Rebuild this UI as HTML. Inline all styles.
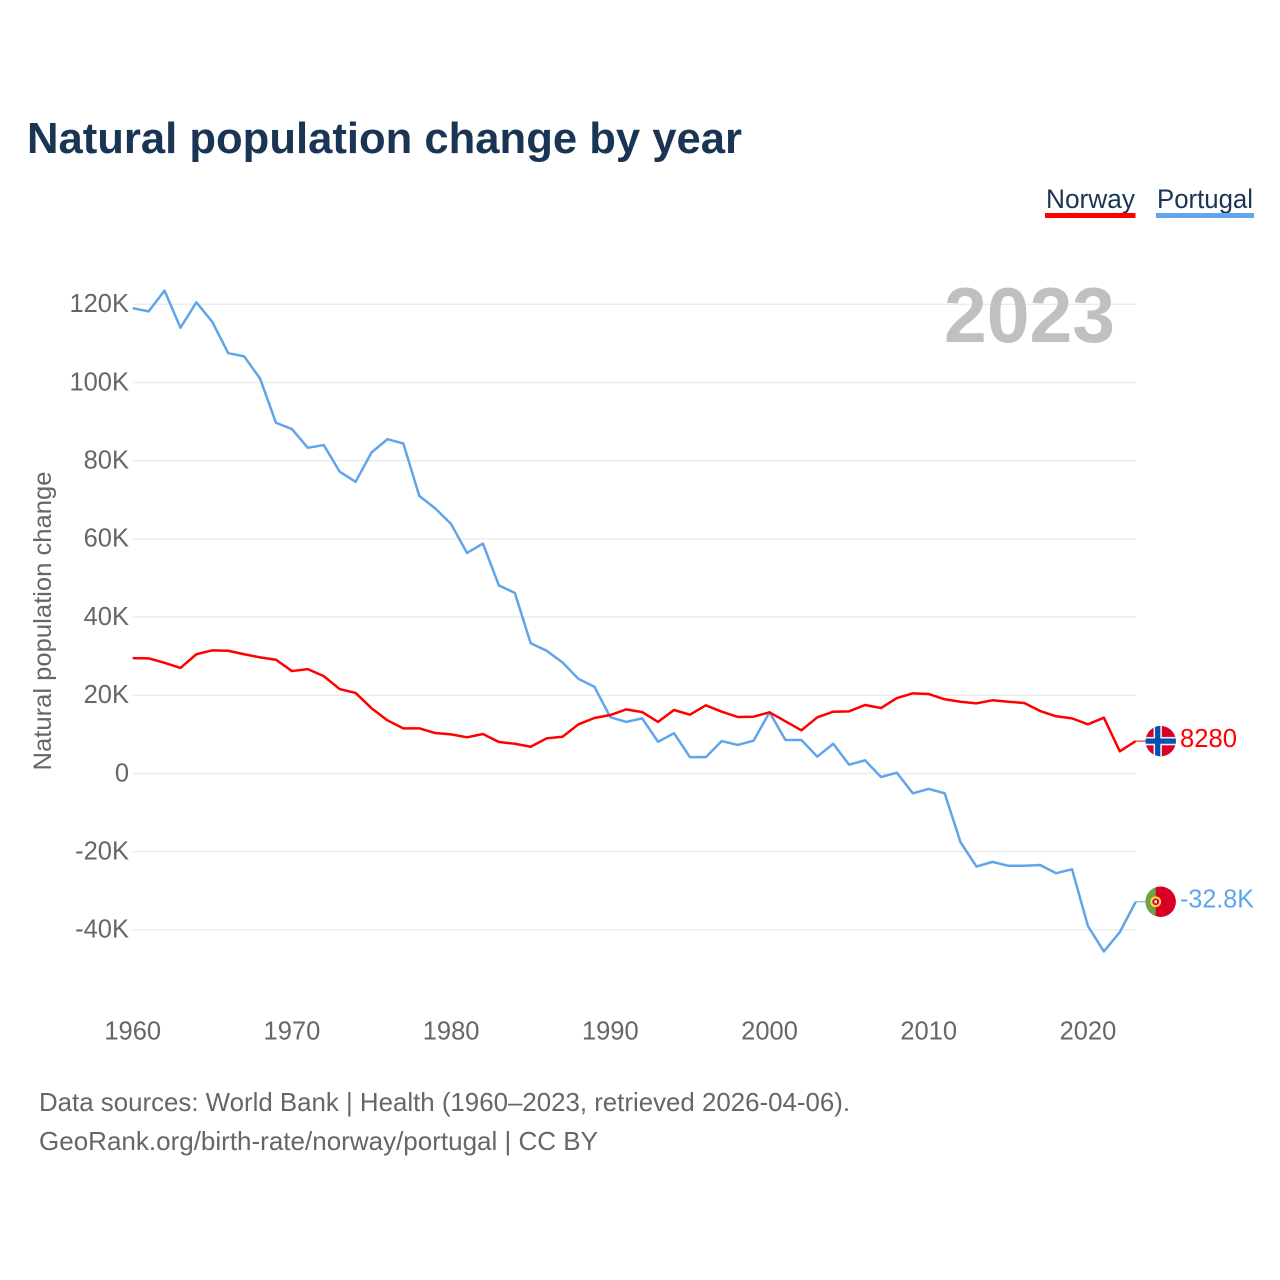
<!DOCTYPE html>
<html lang="en">
<head>
<meta charset="utf-8">
<title>Natural population change by year</title>
<style>
html,body{margin:0;padding:0;background:#fff;}
svg{display:block;font-family:"Liberation Sans",sans-serif;}
</style>
</head>
<body>
<svg id="chart" xmlns="http://www.w3.org/2000/svg" width="1280" height="1280" viewBox="0 0 1280 1280">
  <defs>
    <clipPath id="flag-clip-no"><circle id="clip-no" cx="1160.7" cy="740" r="15.2"></circle></clipPath>
    <clipPath id="flag-clip-pt"><circle id="clip-pt" cx="1160.7" cy="901" r="15.2"></circle></clipPath>
  </defs>
  <rect x="0" y="0" width="1280" height="1280" fill="#ffffff"></rect>
  <text x="27" y="153" font-size="44" font-weight="700" fill="#1a3454" textLength="715" lengthAdjust="spacingAndGlyphs">Natural population change by year</text>

  <g>
    <g>
      <text x="1046" y="208" font-size="27" fill="#1a3454" textLength="89" lengthAdjust="spacingAndGlyphs">Norway</text>
      <rect x="1045" y="213" width="90.5" height="5" fill="#ff0000"></rect>
    </g>
    <g>
      <text x="1157" y="208" font-size="27" fill="#1a3454" textLength="96" lengthAdjust="spacingAndGlyphs">Portugal</text>
      <rect x="1156" y="213" width="98" height="5" fill="#63a5ea"></rect>
    </g>
  </g>

  <g id="grid"></g>
  <text x="1115" y="342" font-size="78" font-weight="700" fill="#c0c0c0" text-anchor="end" textLength="171" lengthAdjust="spacingAndGlyphs">2023</text>
  <g id="y-ticks"></g>
  <g id="x-ticks"></g>
  <text transform="translate(51,621) rotate(-90)" font-size="25" fill="#666666" text-anchor="middle" textLength="299" lengthAdjust="spacingAndGlyphs">Natural population change</text>
  <g id="series"></g>
  <g id="ends"></g>

  <text x="39" y="1111" font-size="26" fill="#666666" textLength="811" lengthAdjust="spacingAndGlyphs">Data sources: World Bank | Health (1960–2023, retrieved 2026-04-06).</text>
  <text x="39" y="1150" font-size="26" fill="#666666" textLength="559" lengthAdjust="spacingAndGlyphs">GeoRank.org/birth-rate/norway/portugal | CC BY</text>
</svg>
<script>
const startYear = 1960;
const xTickYears = [1960, 1970, 1980, 1990, 2000, 2010, 2020];
const yTickValues = [120000, 100000, 80000, 60000, 40000, 20000, 0, -20000, -40000];
const yTickLabels = ["120K", "100K", "80K", "60K", "40K", "20K", "0", "-20K", "-40K"];
const norwayValues = [29500,29450,28300,27000,30500,31500,31400,30500,29700,29100,26200,26700,24900,21600,20600,16700,13600,11550,11550,10350,10000,9250,10100,8050,7600,6850,9000,9400,12580,14200,14960,16400,15700,13200,16240,15050,17440,15800,14450,14530,15650,13350,11050,14370,15800,15900,17520,16750,19300,20500,20330,18980,18360,17950,18720,18360,18030,15980,14630,14100,12580,14270,5680,8280];
const portugalValues = [119000,118200,123500,114000,120500,115500,107500,106700,101000,89700,88100,83300,84000,77200,74600,82100,85500,84400,71000,67800,63800,56400,58800,48100,46200,33300,31400,28400,24200,22200,14400,13200,14100,8100,10300,4200,4200,8300,7300,8400,15650,8570,8570,4300,7600,2250,3370,-900,200,-5060,-3960,-5060,-17600,-23800,-22600,-23600,-23600,-23400,-25500,-24500,-39000,-45500,-40600,-32800];
const norwayEndLabel = "8280";
const portugalEndLabel = "-32.8K";

const SVGNS = "http://www.w3.org/2000/svg";
const xScale = function (year) { return 132.7 + (year - startYear) * (1135.7 - 132.7) / 63; };
const yScale = function (value) { return 773.5 - value * 78.2 / 20000; };

function make(tag, attrs, text) {
  const el = document.createElementNS(SVGNS, tag);
  Object.keys(attrs).forEach(function (k) { el.setAttribute(k, attrs[k]); });
  if (text !== undefined) el.textContent = text;
  return el;
}

const grid = document.getElementById("grid");
const yTicks = document.getElementById("y-ticks");
yTickValues.forEach(function (v, i) {
  const y = yScale(v);
  const line = make("line", { x1: 133, x2: 1136, y1: y, y2: y, stroke: "#ebebeb", "stroke-width": 1.4 });
  
  
  grid.appendChild(line);
  const label = make("text", { x: 129, y: y + 7.8, "font-size": 25.5, fill: "#666666", "text-anchor": "end" }, yTickLabels[i]);
  
  
  yTicks.appendChild(label);
});

const xTicks = document.getElementById("x-ticks");
xTickYears.forEach(function (year) {
  const label = make("text", { x: xScale(year), y: 1039.5, "font-size": 25.5, fill: "#666666", "text-anchor": "middle" }, String(year));
  
  
  xTicks.appendChild(label);
});

function pathFor(values) {
  return values.map(function (v, i) {
    return (i ? "L" : "M") + xScale(startYear + i).toFixed(2) + " " + yScale(v).toFixed(2);
  }).join(" ");
}

const seriesGroup = document.getElementById("series");
const portugalLine = make("path", { d: pathFor(portugalValues), fill: "none", stroke: "#60a5ea", "stroke-width": 2.5, "stroke-linejoin": "round" });


seriesGroup.appendChild(portugalLine);
const norwayLine = make("path", { d: pathFor(norwayValues), fill: "none", stroke: "#ff0000", "stroke-width": 2.5, "stroke-linejoin": "round" });


seriesGroup.appendChild(norwayLine);

const ends = document.getElementById("ends");
const lastIndex = norwayValues.length - 1;
const noY = yScale(norwayValues[lastIndex]);
const ptY = yScale(portugalValues[lastIndex]);
const endX = xScale(startYear + lastIndex);
const flagX = 1160.7;

document.getElementById("clip-no").setAttribute("cy", noY);
document.getElementById("clip-pt").setAttribute("cy", ptY);

const noConnector = make("line", { x1: endX, x2: flagX - 15, y1: noY, y2: noY, stroke: "#ff0000", "stroke-width": 1 });


ends.appendChild(noConnector);
const ptConnector = make("line", { x1: endX, x2: flagX - 15, y1: ptY, y2: ptY, stroke: "#60a5ea", "stroke-width": 1 });


ends.appendChild(ptConnector);

const noFlag = make("g", { "clip-path": "url(#flag-clip-no)" });


noFlag.appendChild(make("rect", { x: flagX - 16, y: noY - 16, width: 32, height: 32, fill: "#d80027" }));
noFlag.appendChild(make("rect", { x: flagX - 16, y: noY - 4.2, width: 32, height: 8.4, fill: "#f0f0f0" }));
noFlag.appendChild(make("rect", { x: flagX - 7.2, y: noY - 16, width: 8.4, height: 32, fill: "#f0f0f0" }));
noFlag.appendChild(make("rect", { x: flagX - 16, y: noY - 2.6, width: 32, height: 5.2, fill: "#0052b4" }));
noFlag.appendChild(make("rect", { x: flagX - 5.6, y: noY - 16, width: 5.2, height: 32, fill: "#0052b4" }));
ends.appendChild(noFlag);

const noLabel = make("text", { x: 1180, y: noY + 6, "font-size": 25.5, fill: "#ff0000", textLength: 57, lengthAdjust: "spacingAndGlyphs" }, norwayEndLabel);


ends.appendChild(noLabel);

const ptFlag = make("g", { "clip-path": "url(#flag-clip-pt)" });


ptFlag.appendChild(make("rect", { x: flagX - 16, y: ptY - 16, width: 32, height: 32, fill: "#d80027" }));
ptFlag.appendChild(make("rect", { x: flagX - 16, y: ptY - 16, width: 11, height: 32, fill: "#6da544" }));
ptFlag.appendChild(make("circle", { cx: flagX - 5, cy: ptY, r: 4.4, fill: "#d80027", stroke: "#ffda44", "stroke-width": 2 }));
ptFlag.appendChild(make("rect", { x: flagX - 6.3, y: ptY - 1.5, width: 2.6, height: 3, fill: "#f0f0f0" }));
ends.appendChild(ptFlag);

const ptLabel = make("text", { x: 1180, y: ptY + 6, "font-size": 25.5, fill: "#60a5ea", textLength: 74, lengthAdjust: "spacingAndGlyphs" }, portugalEndLabel);


ends.appendChild(ptLabel);
</script>
</body>
</html>
